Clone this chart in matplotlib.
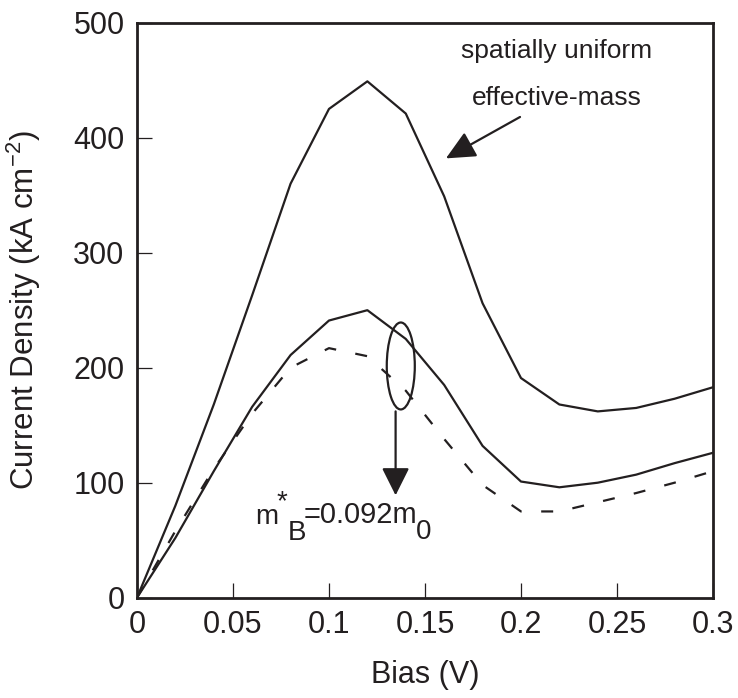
import matplotlib
matplotlib.use('Agg')
import matplotlib.pyplot as plt
from matplotlib.patches import Ellipse

plt.rcParams['font.family'] = ['Liberation Sans', 'DejaVu Sans']

bias = [0, 0.02, 0.04, 0.06, 0.08, 0.10, 0.12, 0.14, 0.16, 0.18, 0.20,
        0.22, 0.24, 0.26, 0.28, 0.30]
uniform_mass = [0, 80, 168, 263, 360, 425, 449, 421, 349, 256, 191,
                168, 162, 165, 173, 183]
graded_mass = [0, 52, 110, 166, 211, 241, 250, 225, 185, 132, 101,
               96, 100, 107, 117, 126]
barrier_mass = [0, 58, 112, 160, 200, 217, 210, 180, 138, 98, 75,
                75, 83, 91, 100, 110]

x_ticks = [0, 0.05, 0.1, 0.15, 0.2, 0.25, 0.3]
x_labels = ['0', '0.05', '0.1', '0.15', '0.2', '0.25', '0.3']
y_ticks = [0, 100, 200, 300, 400, 500]

ink = '#231f20'

fig = plt.figure(figsize=(7.38, 6.98), dpi=100)
ax = fig.add_axes([0.1856, 0.1437, 0.7805, 0.8238])

ax.plot(bias, uniform_mass, color=ink, lw=1.6)
ax.plot(bias, graded_mass, color=ink, lw=1.6)
ax.plot(bias, barrier_mass, color=ink, lw=1.6, linestyle=(0, (5.4, 8.8)))

ax.set_xlim(0, 0.3)
ax.set_ylim(0, 500)
ax.set_xticks(x_ticks)
ax.set_xticklabels(x_labels)
ax.set_yticks(y_ticks)
ax.tick_params(direction='in', length=11, width=0.9, labelsize=22,
               pad=9, colors=ink, top=False, right=False)
for s in ax.spines.values():
    s.set_linewidth(2.0)
    s.set_color(ink)

ax.set_xlabel('Bias (V)', fontsize=22, color=ink)
ax.set_ylabel('Current Density (kA cm$^{\\mathregular{-2}}$)', fontsize=22.5, color=ink)
ax.xaxis.set_label_coords(0.5, -0.108)
ax.yaxis.set_label_coords(-0.163, 0.5)

# upper annotation
ax.text(0.2185, 469, 'spatially uniform', fontsize=19, ha='center', va='baseline', color=ink)
ax.text(0.2185, 428, 'effective-mass', fontsize=19, ha='center', va='baseline', color=ink)
ax.annotate('', xy=(0.1609, 382), xytext=(0.1995, 418),
            arrowprops=dict(arrowstyle='-|>,head_length=1.8,head_width=0.85',
                            color=ink, lw=1.6, shrinkA=0, shrinkB=0))

# ellipse + down arrow
ax.add_patch(Ellipse((0.1374, 201.5), 0.0146, 75.6, fill=False, ec=ink, lw=1.6))
ax.annotate('', xy=(0.1347, 89), xytext=(0.1347, 162),
            arrowprops=dict(arrowstyle='-|>,head_length=1.7,head_width=0.85',
                            color=ink, lw=1.6, shrinkA=0, shrinkB=0))

# m*_B = 0.092 m_0 label, full-size sub/superscripts
fs = 20
ax.text(0.0615, 64.5, 'm', fontsize=fs, ha='left', va='baseline', color=ink)
ax.text(0.0725, 94, '*', fontsize=fs, ha='left', va='top', color=ink)
ax.text(0.0786, 50, 'B', fontsize=fs, ha='left', va='baseline', color=ink)
ax.text(0.0866, 65, '=0.092m', fontsize=21, ha='left', va='baseline', color=ink)
ax.text(0.1455, 51, '0', fontsize=fs, ha='left', va='baseline', color=ink)

fig.savefig('out.png', dpi=100)
